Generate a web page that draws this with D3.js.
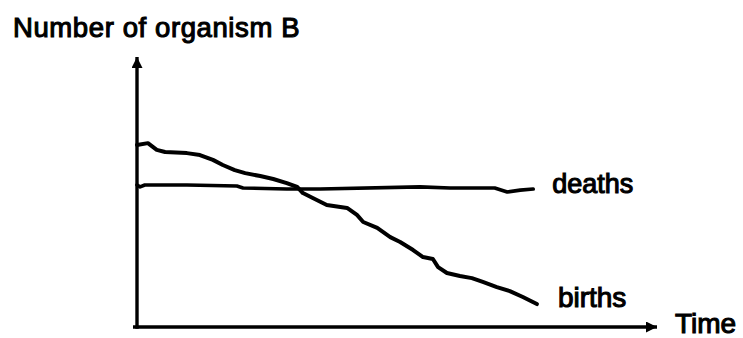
<!DOCTYPE html>
<html>
<head>
<meta charset="utf-8">
<script src="https://cdn.jsdelivr.net/npm/d3@7"></script>
<style>
  html, body { margin: 0; padding: 0; background: #fff; }
  svg text { font-family: "Liberation Sans", Arial, Helvetica, sans-serif; fill: #000; }
</style>
</head>
<body>
<svg id="chart" width="743" height="338"></svg>
<script>
// Time axis positions (arbitrary units 0–100)
const birthTime = [0, 2.1, 3.8, 5.4, 9.6, 12.1, 14.6, 16.5, 18.8, 20.8, 23.7, 26.2, 28.8, 30.8, 31.9,
  33.8, 36.5, 40.4, 42.3, 43.5, 46.2, 48.7, 50.6, 53.1, 55.0, 56.9, 57.9, 59.6, 62.1, 64.4,
  66.5, 69.2, 71.7, 74.2, 76.9];
// Number of births (arbitrary units 0–100)
const births = [67.4, 68.1, 65.6, 64.8, 64.4, 63.7, 61.9, 60.0, 58.1, 57.0, 55.9, 54.8, 53.3, 51.9, 49.6,
  47.8, 45.2, 44.1, 41.5, 38.9, 36.7, 33.3, 31.5, 28.5, 25.9, 25.2, 22.2, 20.0, 18.9, 18.1,
  16.7, 14.8, 13.3, 11.1, 8.5];

const deathTime = [0, 0.6, 1.5, 9.6, 19.2, 20.4, 28.8, 35.2, 54.4, 60.2, 68.8, 71.2, 73.7, 76.2];
// Number of deaths, roughly constant over time
const deaths = [52.6, 51.9, 52.6, 52.6, 52.2, 51.5, 51.1, 51.1, 51.9, 51.5, 51.5, 50.0, 50.7, 51.1];

const yTitle = "Number of organism B";
const xTitle = "Time";
const seriesLabels = ["deaths", "births"];

const svg = d3.select("#chart");

const x = d3.scaleLinear().domain([0, 100]).range([137, 657]);
const y = d3.scaleLinear().domain([0, 100]).range([327, 57]);

// Arrowhead marker for the axes
const defs = svg.append("defs");
defs.append("marker")
  .attr("id", "arrow")
  .attr("viewBox", "0 0 10 10")
  .attr("refX", 10).attr("refY", 5)
  .attr("markerWidth", 14).attr("markerHeight", 11)
  .attr("markerUnits", "userSpaceOnUse")
  .attr("orient", "auto")
  .append("path")
  .attr("d", "M0,0 L10,5 L0,10 Z")
  .attr("fill", "#000");

// Axes: plain lines with arrowheads, no ticks
svg.append("line")
  .attr("x1", x(0) - 4).attr("y1", y(0))
  .attr("x2", x(100)).attr("y2", y(0))
  .attr("stroke", "#000").attr("stroke-width", 3.4)
  .attr("marker-end", "url(#arrow)");

svg.append("line")
  .attr("x1", x(0)).attr("y1", y(0) + 1.7)
  .attr("x2", x(0)).attr("y2", y(100))
  .attr("stroke", "#000").attr("stroke-width", 3.4)
  .attr("marker-end", "url(#arrow)");

const line = d3.line()
  .x(d => x(d[0]))
  .y(d => y(d[1]))
  .curve(d3.curveLinear);

const deathData = deathTime.map((t, i) => [t, deaths[i]]);
const birthData = birthTime.map((t, i) => [t, births[i]]);

svg.append("path")
  .datum(deathData)
  .attr("d", line)
  .attr("fill", "none")
  .attr("stroke", "#000")
  .attr("stroke-width", 3.6)
  .attr("stroke-linejoin", "round")
  .attr("stroke-linecap", "round");

svg.append("path")
  .datum(birthData)
  .attr("d", line)
  .attr("fill", "none")
  .attr("stroke", "#000")
  .attr("stroke-width", 4)
  .attr("stroke-linejoin", "round")
  .attr("stroke-linecap", "round");

// Series labels next to each line end
const lastDeath = deathData[deathData.length - 1];
const lastBirth = birthData[birthData.length - 1];

svg.append("text")
  .attr("x", x(lastDeath[0]) + 19)
  .attr("y", 193)
  .attr("font-size", 27)
  .attr("stroke", "#000").attr("stroke-width", 1.1)
  .text(seriesLabels[0]);

svg.append("text")
  .attr("x", x(lastBirth[0]) + 21)
  .attr("y", 307)
  .attr("font-size", 28)
  .attr("stroke", "#000").attr("stroke-width", 1.1)
  .text(seriesLabels[1]);

// Axis titles
svg.append("text")
  .attr("x", 13)
  .attr("y", 37)
  .attr("font-size", 27.5)
  .attr("letter-spacing", 0.6)
  .attr("stroke", "#000").attr("stroke-width", 1.1)
  .text(yTitle);

svg.append("text")
  .attr("x", 675)
  .attr("y", 333)
  .attr("font-size", 28)
  .attr("stroke", "#000").attr("stroke-width", 1.1)
  .text(xTitle);
</script>
</body>
</html>
